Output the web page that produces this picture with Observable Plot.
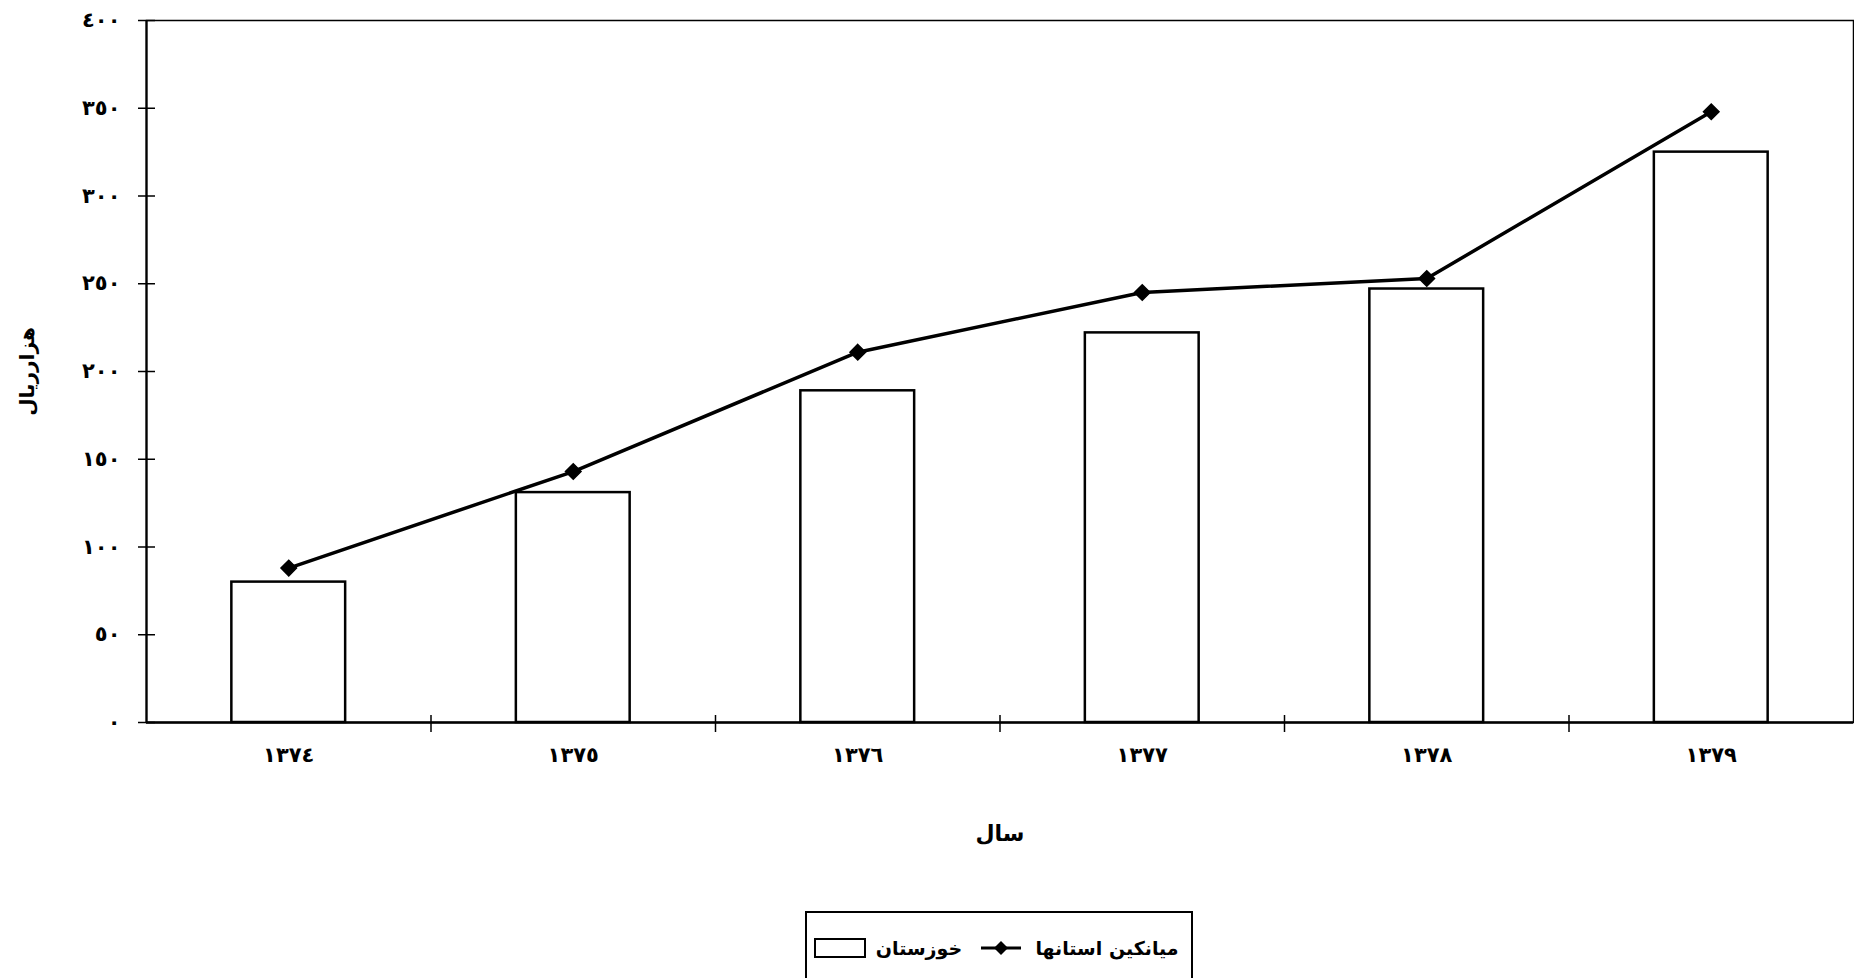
<!DOCTYPE html>
<html>
<head>
<meta charset="utf-8">
<script src="https://cdn.jsdelivr.net/npm/d3@7"></script>
<script src="https://cdn.jsdelivr.net/npm/@observablehq/plot@0.6"></script>
<style>
  html, body { margin: 0; padding: 0; background: #fff; overflow: hidden; }
  #wrap { position: relative; width: 1854px; height: 978px; font-family: "DejaVu Sans", sans-serif; font-weight: bold; }
  #legend { position: absolute; left: 805px; top: 911px; width: 388px; height: 110px; border: 2px solid #000; box-sizing: border-box; background: #fff; }
  #legend .sw { position: absolute; left: 7px; top: 25px; width: 52px; height: 20px; border: 2px solid #000; box-sizing: border-box; }
  #legend .t { position: absolute; top: 21px; font-size: 19px; line-height: 28px; white-space: nowrap; text-align: center; }
  #legend svg { position: absolute; left: 172px; top: 25px; }
</style>
</head>
<body>
<div id="wrap">
  <div id="chart"></div>
  <div id="legend">
    <div class="sw"></div>
    <div class="t" style="left:68px;width:88px;">خوزستان</div>
    <svg width="44" height="20"><line x1="2" y1="10" x2="42" y2="10" stroke="#000" stroke-width="3"/><path d="M22,3L29,10L22,17L15,10Z" fill="#000"/></svg>
    <div class="t" style="left:222px;width:156px;">میانکین استانها</div>
  </div>
</div>
<script>
const years = [1374, 1375, 1376, 1377, 1378, 1379];
const khuzestan = [80, 131, 189, 222, 247, 325];
const provincesAvg = [88, 143, 211, 245, 253, 348];
const yTicks = [0, 50, 100, 150, 200, 250, 300, 350, 400];
const yLabel = "هزارریال";
const xLabel = "سال";

const data = years.map((year, i) => ({year, khz: khuzestan[i], avg: provincesAvg[i]}));
const boundaries = years.slice(1).map(y => y - 0.5);
const arabicDigits = "٠١٢٣٤٥٦٧٨٩";
const toArabic = d => String(d).replace(/\d/g, c => arabicDigits[+c]);

const chart = Plot.plot({
  width: 1854,
  height: 900,
  marginLeft: 146,
  marginRight: 1,
  marginTop: 20,
  marginBottom: 178,
  style: {fontFamily: "DejaVu Sans", fontWeight: "bold", fontSize: "20px", color: "black", background: "white"},
  x: {type: "linear", domain: [1373.5, 1379.5], axis: null},
  y: {domain: [0, 400], axis: null},
  marks: [
    Plot.frame({stroke: "black", strokeWidth: 1.5}),
    Plot.rectY(data, {x1: d => d.year - 0.2, x2: d => d.year + 0.2, y1: 0, y2: "khz", fill: "white", stroke: "black", strokeWidth: 2.5}),
    Plot.line(data, {x: "year", y: "avg", stroke: "black", strokeWidth: 3.5}),
    Plot.dot(data, {x: "year", y: "avg", symbol: "diamond2", r: 7, fill: "black", stroke: "black"}),
    Plot.ruleY([0], {stroke: "black", strokeWidth: 2.5}),
    Plot.ruleX([1373.5], {stroke: "black", strokeWidth: 2.2}),
    Plot.axisY({ticks: yTicks, tickSize: 17, dx: 9, tickFormat: () => "", label: null, strokeWidth: 1.5}),
    Plot.axisY({ticks: yTicks, tickSize: 0, tickPadding: 26, tickFormat: toArabic, label: null, fontSize: 21}),
    Plot.axisX({ticks: boundaries, tickSize: 17, dy: -7, tickFormat: () => "", label: null, strokeWidth: 1.5}),
    Plot.axisX({ticks: years, tickSize: 0, tickPadding: 25, tickFormat: toArabic, label: null, fontSize: 21}),
    Plot.text([yLabel], {text: d => d, frameAnchor: "left", textAnchor: "middle", rotate: -90, dx: -119, fontSize: 20, fontWeight: "bold"}),
    Plot.text([xLabel], {text: d => d, frameAnchor: "bottom", dy: 118, fontSize: 22, fontWeight: "bold"})
  ]
});
document.getElementById("chart").appendChild(chart);
</script>
</body>
</html>
